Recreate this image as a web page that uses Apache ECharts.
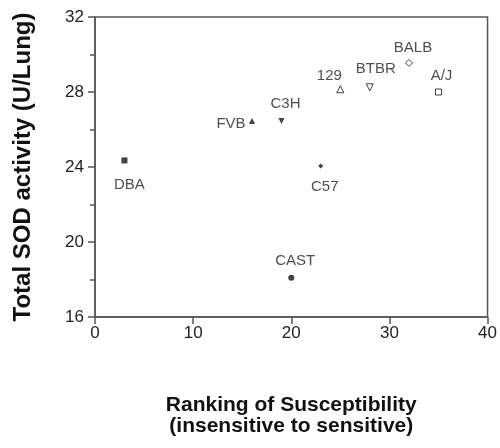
<!DOCTYPE html>
<html>
<head>
<meta charset="utf-8">
<script src="https://cdn.jsdelivr.net/npm/echarts@6/dist/echarts.min.js"></script>
<style>html,body{margin:0;padding:0;background:#fff}#c{width:500px;height:448px}</style>
</head>
<body>
<div id="c"></div>
<script>
// Data
var strains = ['DBA', 'C57', 'CAST', 'FVB', 'C3H', '129', 'BTBR', 'BALB', 'A/J'];
var ranking = [3, 23, 20, 16, 19, 25, 28, 32, 35];
var sodActivity = [24.35, 24.05, 18.1, 26.45, 26.45, 28.15, 28.25, 29.55, 28.0];
var xTicks = [0, 10, 20, 30, 40];
var yTicks = [16, 20, 24, 28, 32];

// Marker and label styles (presentation only)
var markerStyle = {
  'DBA':  {symbol: 'rect', size: 6, filled: true, rotate: 0, offset: [5, 24]},
  'C57':  {symbol: 'diamond', size: 5, filled: true, rotate: 0, offset: [4, 21]},
  'CAST': {symbol: 'circle', size: 6, filled: true, rotate: 0, offset: [4, -17]},
  'FVB':  {symbol: 'triangle', size: 6, filled: true, rotate: 0, offset: [-21, 3]},
  'C3H':  {symbol: 'triangle', size: 6, filled: true, rotate: 180, offset: [4, -17]},
  '129':  {symbol: 'triangle', size: 7, filled: false, rotate: 0, offset: [-11, -13]},
  'BTBR': {symbol: 'triangle', size: 7, filled: false, rotate: 180, offset: [6, -18]},
  'BALB': {symbol: 'diamond', size: 7, filled: false, rotate: 0, offset: [4, -15]},
  'A/J':  {symbol: 'rect', size: 6, filled: false, rotate: 0, offset: [3, -16]}
};

var FONT = '"Liberation Sans", Arial, sans-serif';
var data = strains.map(function (s, i) {
  var m = markerStyle[s];
  return {
    name: s,
    value: [ranking[i], sodActivity[i]],
    symbol: m.symbol,
    symbolSize: m.size,
    symbolRotate: m.rotate,
    itemStyle: {
      color: m.filled ? '#111' : '#fff',
      borderColor: '#111',
      borderWidth: m.filled ? 0 : 1
    },
    label: {
      show: true,
      position: 'inside',
      offset: m.offset,
      formatter: s,
      color: '#222',
      fontSize: 15,
      fontFamily: FONT
    }
  };
});

var chart = echarts.init(document.getElementById('c'), null, {renderer: 'canvas'});
chart.setOption({
  animation: false,
  backgroundColor: '#fff',
  grid: {left: 95, right: 12, top: 17, bottom: 131, show: true, borderColor: '#555', borderWidth: 1.5, backgroundColor: 'transparent'},
  xAxis: {
    type: 'value',
    min: xTicks[0], max: xTicks[xTicks.length - 1], interval: 10,
    name: 'Ranking of Susceptibility\n(insensitive to sensitive)',
    nameLocation: 'middle',
    nameGap: 78,
    nameTextStyle: {fontSize: 21, fontWeight: 'bold', color: '#111', fontFamily: FONT, lineHeight: 21},
    axisLine: {show: true, lineStyle: {color: '#555', width: 1.5}},
    axisTick: {show: true, length: 7, lineStyle: {color: '#555', width: 1.5}},
    axisLabel: {fontSize: 17, color: '#222', fontFamily: FONT, margin: 8},
    splitLine: {show: false}
  },
  yAxis: {
    type: 'value',
    min: yTicks[0], max: yTicks[yTicks.length - 1], interval: 4,
    name: 'Total SOD activity (U/Lung)',
    nameLocation: 'middle',
    nameGap: 60,
    nameTextStyle: {fontSize: 24, fontWeight: 'bold', color: '#111', fontFamily: FONT},
    axisLine: {show: true, lineStyle: {color: '#555', width: 1.5}},
    axisTick: {show: true, length: 7, lineStyle: {color: '#555', width: 1.5}},
    minorTick: {show: true, splitNumber: 2, length: 5, lineStyle: {color: '#555', width: 1.5}},
    axisLabel: {fontSize: 17, color: '#222', fontFamily: FONT, margin: 11},
    splitLine: {show: false}
  },
  series: [{
    type: 'scatter',
    data: data
  }]
});
</script>
</body>
</html>
